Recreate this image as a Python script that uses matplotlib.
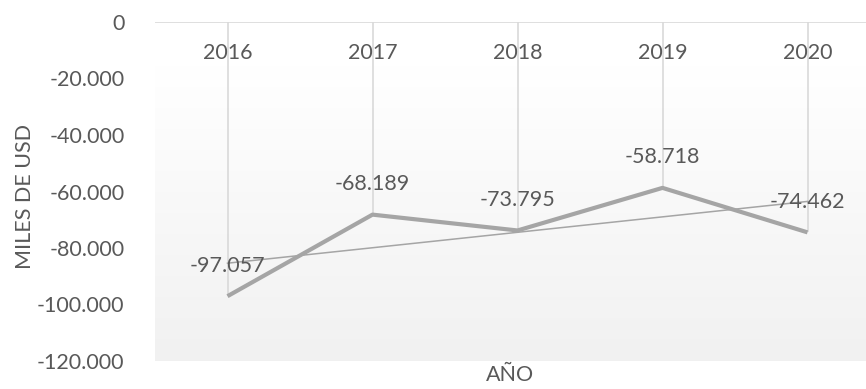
import numpy as np
import matplotlib.pyplot as plt

# datos
anios = ["2016", "2017", "2018", "2019", "2020"]
valores = [-97057, -68189, -73795, -58718, -74462]
ticks_y = [0, -20000, -40000, -60000, -80000, -100000, -120000]


def formato(v):
    return f"{v:,.0f}".replace(",", ".")


plt.rcParams["font.family"] = ["Lato", "DejaVu Sans"]
gris_txt = "#595959"
tam = 15.5

fig = plt.figure(figsize=(8.66, 3.89), dpi=100)
# area de trazado: x 155..866 px, y 22..361 px
ax = fig.add_axes([155 / 866, 1 - 361 / 389, 711 / 866, 339 / 389])

x = np.arange(len(anios))

# fondo degradado blanco -> gris claro
grad = np.linspace(1.0, 0.945, 256).reshape(-1, 1)
ax.imshow(np.dstack([grad, grad, grad]), aspect="auto",
          extent=(-0.5, 4.5, -120000, -15500), zorder=0)
ax.set_xlim(-0.5, 4.5 - 14 / 145)
ax.set_ylim(-120000, 0)

# linea del eje en 0 y lineas de caida
ax.axhline(0, color="#d9d9d9", lw=1.2, zorder=1)
ax.vlines(x, valores, 0, color="#d9d9d9", lw=1.2, zorder=1)

# serie y linea de tendencia
ax.plot(x, valores, color="#a5a5a5", lw=3.0, zorder=3, solid_capstyle="butt")
m, b = np.polyfit(x, valores, 1)
ax.plot(x, m * x + b, color="#a5a5a5", lw=1.1, zorder=2)

for xi, v in zip(x, valores):
    ax.annotate(formato(v), (xi, v), xytext=(0, 22), textcoords="offset points",
                ha="center", va="center", fontsize=tam, color=gris_txt, zorder=4)

for xi, a in zip(x, anios):
    ax.annotate(a, (xi, 0), xytext=(0, -22), textcoords="offset points",
                ha="center", va="center", fontsize=tam, color=gris_txt)

ax.set_xticks([])
ax.set_yticks(ticks_y)
ax.set_yticklabels([formato(t) for t in ticks_y], fontsize=tam, color=gris_txt)
ax.tick_params(axis="y", length=0, pad=22)
for s in ax.spines.values():
    s.set_visible(False)

ax.set_ylabel("MILES DE USD", fontsize=tam, color=gris_txt)
ax.yaxis.set_label_coords(-0.169, 0.485)
ax.set_xlabel("AÑO", fontsize=tam, color=gris_txt)
ax.xaxis.set_label_coords(0.499, -0.012)

fig.savefig("out.png", dpi=100)
